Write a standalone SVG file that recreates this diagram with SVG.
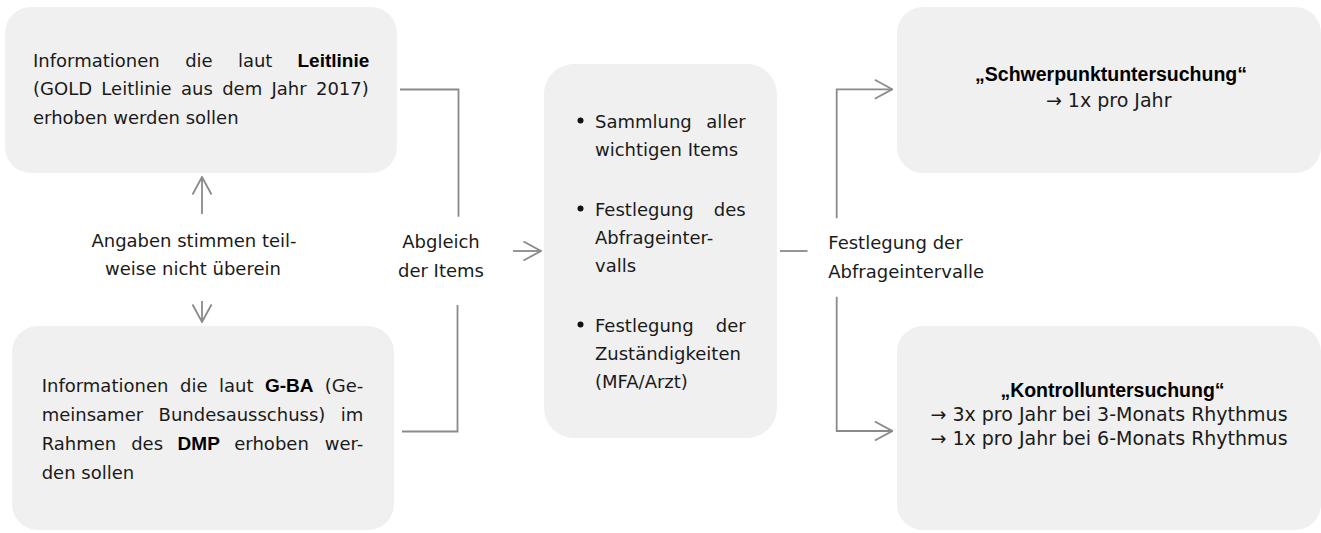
<svg xmlns="http://www.w3.org/2000/svg" width="1321" height="533" viewBox="0 0 1321 533">
<style>
.box{fill:#f0f0f0}
text{font-family:"DejaVu Sans","Liberation Sans",sans-serif;font-size:18px;fill:#1a1a1a}
.b{font-family:"Liberation Sans",Arial,sans-serif;font-weight:bold;font-size:19px;fill:#000}
.r{font-size:19px}
.rb{font-size:19.5px}
.c{text-anchor:middle}
.e{text-anchor:end}
.con{fill:none;stroke:#8a8a8a;stroke-width:1.8}
.dot{fill:#111}
</style>
<defs>
<marker id="ah" markerUnits="userSpaceOnUse" viewBox="0 0 19 21" refX="18" refY="10.5" markerWidth="19" markerHeight="21" orient="auto">
<path d="M0.5,1 L18,10.5 L0.5,20" fill="none" stroke="#8a8a8a" stroke-width="1.8"/>
</marker>
</defs>

<g id="connectors">
<path class="con" d="M400,89.5 H458.5 V216.7"/>
<path class="con" d="M402,431.5 H457.5 V305"/>
<path class="con" d="M513,251 H541" marker-end="url(#ah)"/>
<path class="con" d="M780,251 H807.5"/>
<path class="con" d="M836.7,218.3 V89.3 H892.3" marker-end="url(#ah)"/>
<path class="con" d="M836.7,296.7 V431 H892.3" marker-end="url(#ah)"/>
<path class="con" d="M202,214 V177" marker-end="url(#ah)"/>
<path class="con" d="M202,301 V322" marker-end="url(#ah)"/>
</g>

<g id="node-leitlinie">
<rect class="box" x="5" y="7" width="392" height="166" rx="26"/>
<text x="33" y="66.5">Informationen</text>
<text x="185.2" y="66.5">die</text>
<text x="237.9" y="66.5">laut</text>
<text class="b e" x="369.3" y="66.5">Leitlinie</text>
<text x="33" y="95" word-spacing="3.6">(GOLD Leitlinie aus dem Jahr 2017)</text>
<text x="33" y="123.5">erhoben werden sollen</text>
</g>

<g id="node-gba">
<rect class="box" x="12" y="326" width="382" height="204" rx="26"/>
<text x="41.7" y="392">Informationen</text>
<text x="180.1" y="392">die</text>
<text x="219" y="392">laut</text>
<text class="b" x="264.9" y="392">G-BA</text>
<text class="e" x="363.3" y="392">(Ge-</text>
<text x="41.7" y="421">meinsamer</text>
<text x="158.6" y="421">Bundesausschuss)</text>
<text class="e" x="363.3" y="421">im</text>
<text x="41.7" y="450">Rahmen</text>
<text x="131.2" y="450">des</text>
<text class="b" x="177.6" y="450">DMP</text>
<text x="234.3" y="450">erhoben</text>
<text class="e" x="363.3" y="450">wer-</text>
<text x="41.7" y="479">den sollen</text>
</g>

<g id="label-angaben">
<text class="c" x="194" y="246.5">Angaben stimmen teil-</text>
<text class="c" x="193" y="275">weise nicht überein</text>
</g>

<g id="label-abgleich">
<text class="c" x="441" y="248">Abgleich</text>
<text class="c" x="441" y="276.5">der Items</text>
</g>

<g id="node-items">
<rect class="box" x="544" y="64" width="233" height="374" rx="30"/>
<circle class="dot" cx="580.5" cy="120.5" r="3"/>
<text x="595" y="127.5">Sammlung</text>
<text class="e" x="745.7" y="127.5">aller</text>
<text x="595" y="155.5">wichtigen Items</text>
<circle class="dot" cx="580.5" cy="208.5" r="3"/>
<text x="595" y="215.5">Festlegung</text>
<text class="e" x="745.7" y="215.5">des</text>
<text x="595" y="243.5">Abfrageinter-</text>
<text x="595" y="271.5">valls</text>
<circle class="dot" cx="580.5" cy="324.5" r="3"/>
<text x="595" y="331.5">Festlegung</text>
<text class="e" x="745.7" y="331.5">der</text>
<text x="595" y="359.5">Zuständigkeiten</text>
<text x="595" y="387.5">(MFA/Arzt)</text>
</g>

<g id="label-festlegung">
<text x="828.3" y="249">Festlegung der</text>
<text x="828.3" y="277.5">Abfrageintervalle</text>
</g>

<g id="node-schwerpunkt">
<rect class="box" x="897" y="7" width="424" height="166" rx="26"/>
<text class="b rb c" x="1111" y="81">„Schwerpunktuntersuchung“</text>
<text class="r c" x="1108.7" y="106.5">→ 1x pro Jahr</text>
</g>

<g id="node-kontroll">
<rect class="box" x="897" y="326" width="424" height="204" rx="26"/>
<text class="b rb c" x="1112.5" y="396.5">„Kontrolluntersuchung“</text>
<text class="r c" x="1109" y="420.5">→ 3x pro Jahr bei 3-Monats Rhythmus</text>
<text class="r c" x="1109" y="445">→ 1x pro Jahr bei 6-Monats Rhythmus</text>
</g>
</svg>
